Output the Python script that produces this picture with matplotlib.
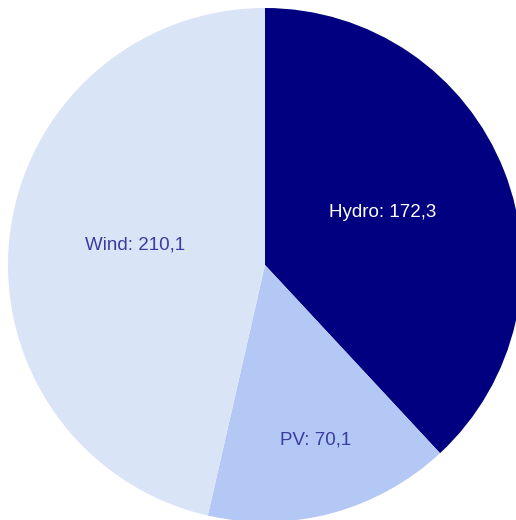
import matplotlib
matplotlib.use("Agg")
import matplotlib.pyplot as plt
import numpy as np

categories = ["Hydro", "PV", "Wind"]
values = [172.3, 70.1, 210.1]
colors = ["#000080", "#b4c8f5", "#dae4f7"]
text_colors = ["#ffffff", "#3c3ca0", "#3c3ca0"]
label_radius = [0.50, 0.71, 0.51]
label_angle_shift = [2.7, 1.1, -2.4]

plt.rcParams['font.family'] = ['Liberation Sans', 'DejaVu Sans']

W, H = 516, 520
fig = plt.figure(figsize=(W / 100, H / 100), dpi=100)
cx, cy, r = 265, 265, 257
ax = fig.add_axes([(cx - r) / W, 1 - (cy + r) / H, 2 * r / W, 2 * r / H])
wedges, _ = ax.pie(values, colors=colors, startangle=90, counterclock=False,
                   radius=1, wedgeprops=dict(linewidth=0))
for w, cat, val, tc, lr, sh in zip(wedges, categories, values, text_colors,
                                   label_radius, label_angle_shift):
    ang = np.deg2rad((w.theta1 + w.theta2) / 2 + sh)
    ax.text(lr * np.cos(ang), lr * np.sin(ang), f"{cat}: {val:.1f}".replace(".", ","),
            ha="center", va="center", color=tc, fontsize=13.5)
ax.set_xlim(-1, 1)
ax.set_ylim(-1, 1)
ax.set_aspect("equal")
ax.axis("off")
for w in wedges:
    w.set_clip_on(False)
fig.savefig("out.png", dpi=100, facecolor="white")
